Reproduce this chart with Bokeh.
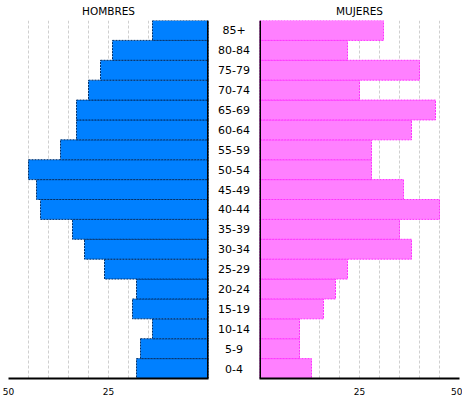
from bokeh.plotting import figure
from bokeh.layouts import row
from bokeh.models import Range1d, FactorRange, FixedTicker, Span
from bokeh.core.properties import value
from bokeh.embed import file_html
from bokeh.resources import INLINE

# ---- data ----
age_groups = ["0-4", "5-9", "10-14", "15-19", "20-24", "25-29", "30-34", "35-39",
              "40-44", "45-49", "50-54", "55-59", "60-64", "65-69", "70-74", "75-79",
              "80-84", "85+"]
hombres = [18, 17, 14, 19, 18, 26, 31, 34, 42, 43, 45, 37, 33, 33, 30, 27, 24, 14]
mujeres = [13, 10, 10, 16, 19, 22, 38, 35, 45, 36, 28, 28, 38, 44, 25, 40, 22, 31]
tick_values = [25, 50]
grid_values = [5, 10, 15, 20, 25, 30, 35, 40, 45, 50]
titles = ["HOMBRES", "MUJERES"]

FONT = "DejaVu Sans"
H = 397
TOP = 19
BOTTOM = 18

y_range = FactorRange(factors=age_groups, range_padding=0)


def side(title, x_range, width, mb_left, mb_right):
    p = figure(width=width, height=H, x_range=x_range, y_range=y_range,
               y_axis_location=None, output_backend="svg", toolbar_location=None,
               min_border_left=mb_left, min_border_right=mb_right,
               min_border_top=TOP, min_border_bottom=BOTTOM,
               outline_line_color=None, title=title,
               background_fill_color="white", border_fill_color="white")
    p.title.align = "center"
    p.title.vertical_align = "middle"
    p.title.text_font = FONT
    p.title.text_font_style = "normal"
    p.title.text_font_size = "10.5px"
    p.title.text_color = "black"
    p.title.standoff = 6
    p.title.offset = 0
    # x axis
    p.xaxis.ticker = FixedTicker(ticks=tick_values)
    p.xaxis.axis_line_width = 2
    p.xaxis.axis_line_color = "black"
    p.xaxis.major_tick_line_color = None
    p.xaxis.minor_tick_line_color = None
    p.xaxis.major_label_text_font = FONT
    p.xaxis.major_label_text_font_size = "9px"
    p.xaxis.major_label_text_color = "black"
    p.xaxis.major_label_standoff = 3
    # grid
    p.xgrid.ticker = FixedTicker(ticks=grid_values)
    p.xgrid.grid_line_color = "#cfcfcf"
    p.xgrid.grid_line_dash = "3 2"
    p.ygrid.visible = False
    # thick black zero line
    p.add_layout(Span(location=0, dimension="height", line_color="black", line_width=3))
    return p


left = side(titles[0], Range1d(50, 0), 210, 8, 2)
left.hbar(y=age_groups, left=0, right=hombres, height=1,
          fill_color="#0080FF", line_color="#00306A", line_dash="2 1", line_width=1)

right = side(titles[1], Range1d(0, 50), 205, 2, 3)
right.hbar(y=age_groups, left=0, right=mujeres, height=1,
           fill_color="#FF80FF", line_color="#FF30FF", line_dash="2 1", line_width=1)

mid = figure(width=47, height=H, x_range=Range1d(0, 1), y_range=y_range,
             x_axis_location=None, y_axis_location=None,
             output_backend="svg", toolbar_location=None,
             min_border_left=0, min_border_right=0,
             min_border_top=TOP, min_border_bottom=BOTTOM,
             outline_line_color=None, border_fill_color="white")
mid.xgrid.visible = False
mid.ygrid.visible = False
mid.text(x=0.5, y=age_groups, text=age_groups, text_align="center",
         text_baseline="middle", text_font=value(FONT), text_font_size="11px",
         text_color="black")

layout = row(left, mid, right)

open("out.html", "w").write(file_html(layout, INLINE))
